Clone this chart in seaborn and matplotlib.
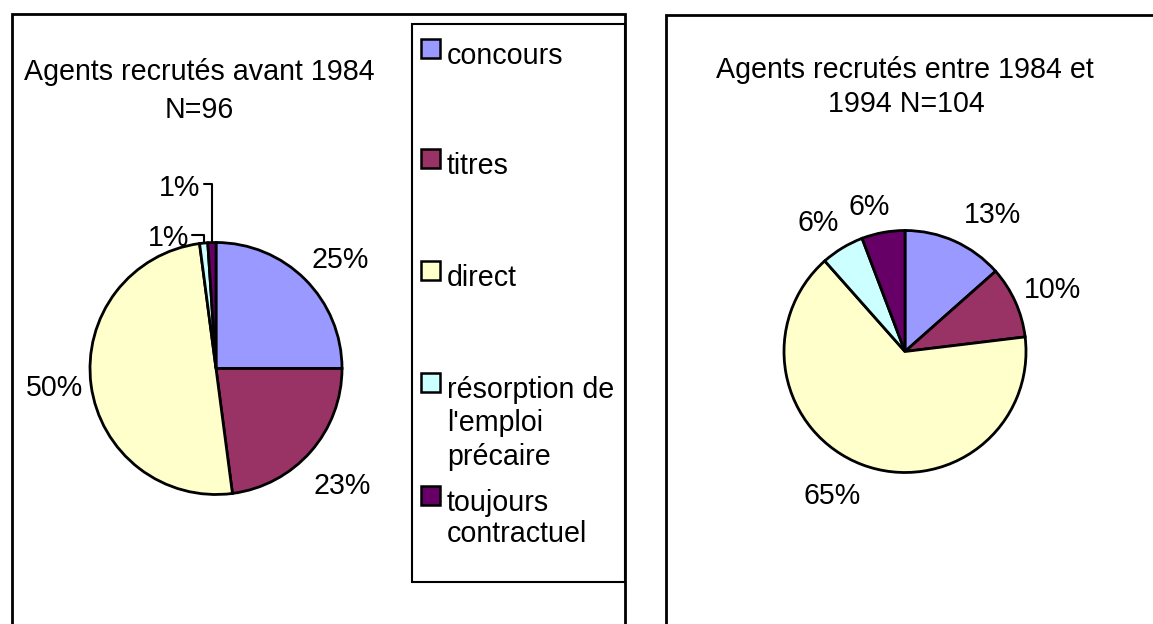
import matplotlib.pyplot as plt
from matplotlib.patches import Rectangle
import numpy as np
import seaborn as sns

sns.set_theme(style='white')
plt.rcParams['font.family'] = ['Liberation Sans', 'DejaVu Sans']
plt.rcParams['text.color'] = 'black'

W, H = 1153, 624
FS = 20.6

# recruitment mode, same order in both pies
categories = ['concours', 'titres', 'direct',
              "résorption de l'emploi précaire", 'toujours contractuel']
legend_lines = [['concours'], ['titres'], ['direct'],
                ['résorption de', "l'emploi", 'précaire'],
                ['toujours', 'contractuel']]
colors = ['#9999FF', '#993366', '#FFFFCC', '#CCFFFF', '#660066']

# head counts
before_1984 = [24, 22, 48, 1, 1]      # N=96
between_84_94 = [14, 10, 68, 6, 6]    # N=104

title_before = ['Agents recrutés avant 1984', 'N=96']
title_between = ['Agents recrutés entre 1984 et', '1994 N=104']

# label placement: (radial distance, angle shift in degrees, leader line)
label_pos_before = [(1.31, -3.7, False), (1.366, -1.75, False), (1.29, -0.6, False),
                    (1.10, 14.6, True), (1.46, 9.4, True)]
label_pos_between = [(1.341, -8.2, False), (1.326, -1.5, False), (1.341, -5.9, False),
                     (1.279, 3.0, False), (1.227, 3.7, False)]


def fx(x):
    return x / W


def fy(y):
    return 1 - y / H


def draw_pie(ax, counts, label_pos):
    total = sum(counts)
    wedges, _ = ax.pie(counts, colors=colors, startangle=90, counterclock=False,
                       wedgeprops=dict(edgecolor='black', linewidth=2.0))
    ax.set_aspect('auto')
    ax.set_xlim(-1, 1)
    ax.set_ylim(-1, 1)
    ax.axis('off')
    for w, v, (dist, shift, leader) in zip(wedges, counts, label_pos):
        mid = np.deg2rad((w.theta1 + w.theta2) / 2)
        ang = mid + np.deg2rad(shift)
        lx, ly = dist * np.cos(ang), dist * np.sin(ang)
        ax.text(lx, ly, f'{round(100 * v / total)}%', ha='center', va='center',
                fontsize=FS, color='black')
        if leader:
            px, py = np.cos(mid), np.sin(mid)
            ax.plot([px, px, lx + 0.19], [py, ly + 0.03, ly + 0.03],
                    color='black', lw=1.5, clip_on=False)


fig = plt.figure(figsize=(W / 100, H / 100), dpi=100)

# panel frames
fig.add_artist(Rectangle((fx(12), fy(640)), (625 - 12) / W, (640 - 14) / H,
                         transform=fig.transFigure, fill=False, ec='black', lw=2.0))
fig.add_artist(Rectangle((fx(666), fy(640)), (1170 - 666) / W, (640 - 15) / H,
                         transform=fig.transFigure, fill=False, ec='black', lw=2.0))

# left pie
ax1 = fig.add_axes([fx(90), fy(494.5), 252 / W, 252 / H])
draw_pie(ax1, before_1984, label_pos_before)
fig.text(fx(199), fy(80), title_before[0], ha='center', va='baseline', fontsize=FS)
fig.text(fx(199), fy(118), title_before[1], ha='center', va='baseline', fontsize=FS)

# right pie
ax2 = fig.add_axes([fx(784), fy(472.5), 242 / W, 242 / H])
draw_pie(ax2, between_84_94, label_pos_between)
fig.text(fx(905), fy(78), title_between[0], ha='center', va='baseline', fontsize=FS)
fig.text(fx(906), fy(112), title_between[1], ha='center', va='baseline', fontsize=FS)

# legend box (drawn by hand to keep the uneven spacing)
fig.add_artist(Rectangle((fx(412), fy(582)), (625 - 412) / W, (582 - 24) / H,
                         transform=fig.transFigure, fill=False, ec='black', lw=1.5))
baselines = [[64], [174], [286], [398, 431, 465], [511, 541.5]]
for lines, ys, c in zip(legend_lines, baselines, colors):
    fig.add_artist(Rectangle((fx(421), fy(ys[0] - 6)), 19 / W, 19 / H,
                             transform=fig.transFigure, fc=c, ec='black', lw=1.8))
    for line, y in zip(lines, ys):
        fig.text(fx(447), fy(y), line, ha='left', va='baseline', fontsize=FS)

fig.savefig('out.png', dpi=100)
